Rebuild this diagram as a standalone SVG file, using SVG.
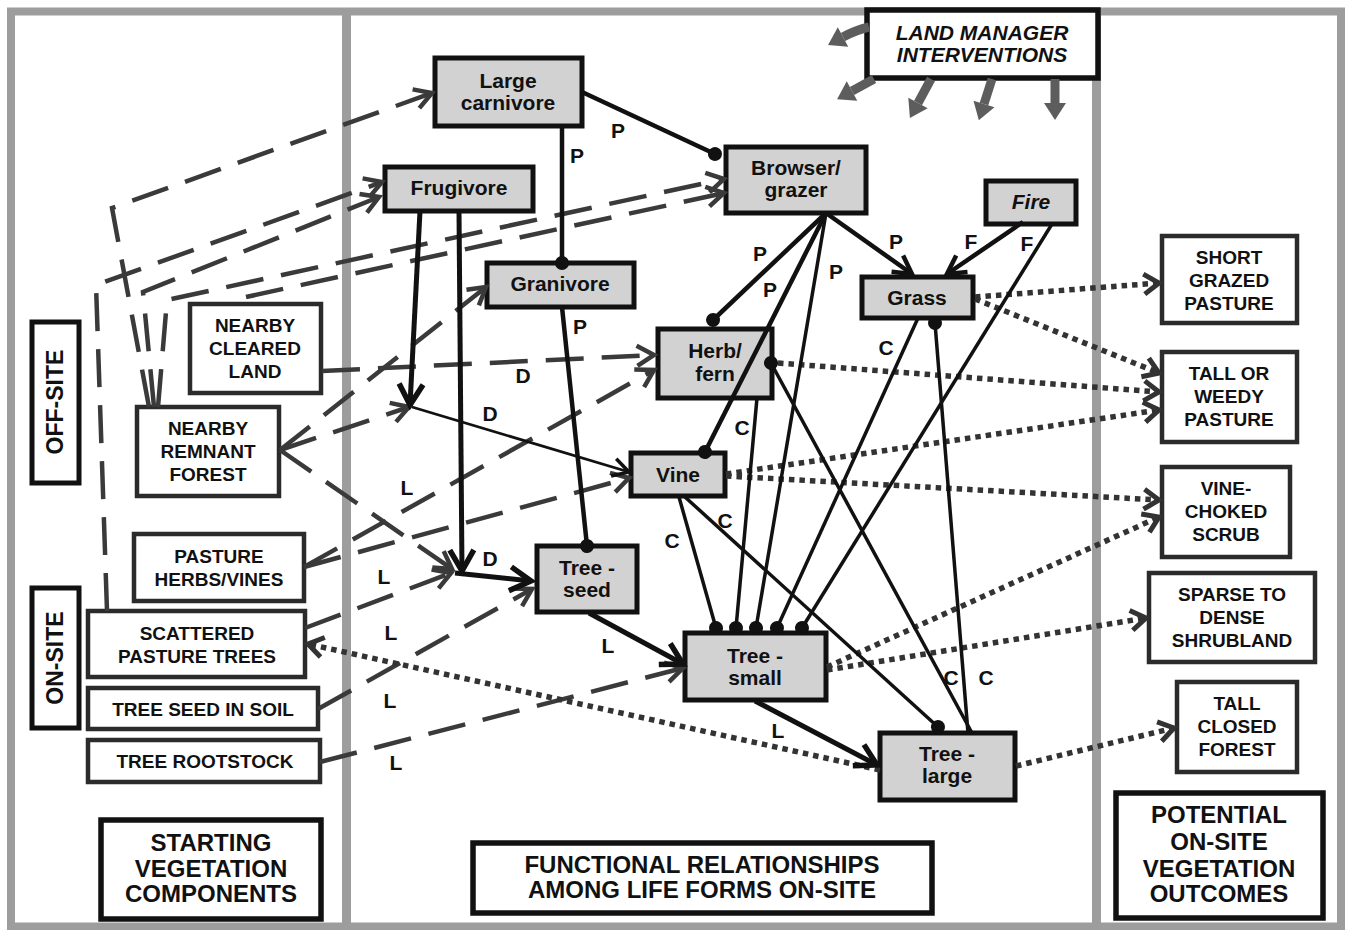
<svg xmlns="http://www.w3.org/2000/svg" width="1347" height="930" viewBox="0 0 1347 930">
<style>
.frame{fill:none;stroke:#9d9d9d;stroke-width:8}
.div{stroke:#9d9d9d;stroke-width:9}
.gnode rect{fill:#d2d2d2;stroke:#111;stroke-width:5}
.wnode rect{fill:#fff;stroke:#2b2b2b;stroke-width:4.5}
.hnode rect{fill:#fff;stroke:#111;stroke-width:5.5}
text{font-family:"Liberation Sans",Arial,sans-serif;font-weight:bold;text-anchor:middle;fill:#111}
.t19{font-size:19px}
.t21{font-size:21px}
.t23{font-size:23px}
.t24{font-size:24px}
.it{font-style:italic}
.lab{font-size:21px}
.solid{fill:none;stroke:#111;stroke-width:4.5}
.med{fill:none;stroke:#111;stroke-width:3.5}
.big{fill:none;stroke:#111;stroke-width:5}
.thin{fill:none;stroke:#111;stroke-width:2.8}
.dash{fill:none;stroke:#3a3a3a;stroke-width:4.5;stroke-dasharray:38 18}
.dot{fill:none;stroke:#333;stroke-width:5.5;stroke-dasharray:5.5 5}
.mgmt{fill:none;stroke:#5d5d5d;stroke-width:9}
</style>
<defs>
<marker id="aS" viewBox="-25 -15 30 30" markerWidth="30" markerHeight="30" refX="0" refY="0" markerUnits="userSpaceOnUse" orient="auto" overflow="visible"><path d="M-18,-10 L0,0 L-18,10" fill="none" stroke="#111" stroke-width="4.5"/></marker>
<marker id="aB" viewBox="-25 -15 30 30" markerWidth="30" markerHeight="30" refX="0" refY="0" markerUnits="userSpaceOnUse" orient="auto" overflow="visible"><path d="M-21,-12 L0,0 L-21,12" fill="none" stroke="#111" stroke-width="5.5"/></marker>
<marker id="aT" viewBox="-25 -15 30 30" markerWidth="30" markerHeight="30" refX="0" refY="0" markerUnits="userSpaceOnUse" orient="auto" overflow="visible"><path d="M-16,-9 L0,0 L-16,9" fill="none" stroke="#111" stroke-width="3.5"/></marker>
<marker id="aD" viewBox="-25 -15 30 30" markerWidth="30" markerHeight="30" refX="0" refY="0" markerUnits="userSpaceOnUse" orient="auto" overflow="visible"><path d="M-17,-10 L0,0 L-17,10" fill="none" stroke="#3a3a3a" stroke-width="4.5"/></marker>
<marker id="aO" viewBox="-25 -15 30 30" markerWidth="30" markerHeight="30" refX="0" refY="0" markerUnits="userSpaceOnUse" orient="auto" overflow="visible"><path d="M-15,-10 L0,0 L-15,10" fill="none" stroke="#333" stroke-width="5"/></marker>
<marker id="dotm" viewBox="-10 -10 20 20" markerWidth="20" markerHeight="20" refX="0" refY="0" markerUnits="userSpaceOnUse" orient="auto" overflow="visible"><circle cx="0" cy="0" r="7" fill="#111"/></marker>
<marker id="mh" viewBox="-2 -13 22 26" markerWidth="22" markerHeight="26" refX="0" refY="0" markerUnits="userSpaceOnUse" orient="auto" overflow="visible"><path d="M0,-11 L17,0 L0,11 Z" fill="#5d5d5d"/></marker>
</defs>

<g id="frame">
<rect class="frame" x="11" y="11.5" width="1330" height="915"/>
<line class="div" x1="346.5" y1="11" x2="346.5" y2="927"/>
<line class="div" x1="1096.5" y1="11" x2="1096.5" y2="927"/>
</g>

<!-- left panel -->
<g id="off-site" class="hnode"><rect x="32" y="322" width="47" height="161" style="stroke-width:5"/><text class="t23" transform="translate(55,402) rotate(-90)" y="8">OFF-SITE</text></g>
<g id="on-site" class="hnode"><rect x="32" y="588" width="47" height="140" style="stroke-width:5"/><text class="t23" transform="translate(55,658) rotate(-90)" y="8">ON-SITE</text></g>
<g id="nearby-cleared-land" class="wnode"><rect x="190" y="304" width="131" height="89"/><text class="t19" x="255" y="332">NEARBY</text><text class="t19" x="255" y="355">CLEARED</text><text class="t19" x="255" y="378">LAND</text></g>
<g id="nearby-remnant-forest" class="wnode"><rect x="137" y="407" width="142" height="89"/><text class="t19" x="208" y="435">NEARBY</text><text class="t19" x="208" y="458">REMNANT</text><text class="t19" x="208" y="481">FOREST</text></g>
<g id="pasture-herbs-vines" class="wnode"><rect x="134" y="534" width="170" height="67"/><text class="t19" x="219" y="563">PASTURE</text><text class="t19" x="219" y="586">HERBS/VINES</text></g>
<g id="scattered-pasture-trees" class="wnode"><rect x="88" y="611" width="217" height="66"/><text class="t19" x="197" y="640">SCATTERED</text><text class="t19" x="197" y="663">PASTURE TREES</text></g>
<g id="tree-seed-in-soil" class="wnode"><rect x="88" y="688" width="230" height="41"/><text class="t19" x="203" y="716">TREE SEED IN SOIL</text></g>
<g id="tree-rootstock" class="wnode"><rect x="88" y="740" width="232" height="42"/><text class="t19" x="205" y="768">TREE ROOTSTOCK</text></g>
<g id="starting-vegetation" class="hnode"><rect x="101" y="820" width="220" height="99"/><text class="t24" x="211" y="851">STARTING</text><text class="t24" x="211" y="877">VEGETATION</text><text class="t24" x="211" y="902">COMPONENTS</text></g>

<!-- middle panel -->
<g id="land-manager" class="hnode"><rect x="867" y="10" width="231" height="68"/><text class="t21 it" x="982" y="40">LAND MANAGER</text><text class="t21 it" x="982" y="62">INTERVENTIONS</text></g>
<g id="large-carnivore" class="gnode"><rect x="435" y="58" width="147" height="68"/><text class="t21" x="508" y="88">Large</text><text class="t21" x="508" y="110">carnivore</text></g>
<g id="frugivore" class="gnode"><rect x="385" y="167" width="148" height="44"/><text class="t21" x="459" y="195">Frugivore</text></g>
<g id="browser-grazer" class="gnode"><rect x="726" y="147" width="140" height="66"/><text class="t21" x="796" y="175">Browser/</text><text class="t21" x="796" y="197">grazer</text></g>
<g id="granivore" class="gnode"><rect x="487" y="263" width="147" height="44"/><text class="t21" x="560" y="291">Granivore</text></g>
<g id="fire" class="gnode"><rect x="986" y="181" width="90" height="43"/><text class="t21 it" x="1031" y="209">Fire</text></g>
<g id="grass" class="gnode"><rect x="862" y="277" width="111" height="41"/><text class="t21" x="917" y="305">Grass</text></g>
<g id="herb-fern" class="gnode"><rect x="658" y="329" width="114" height="69"/><text class="t21" x="715" y="358">Herb/</text><text class="t21" x="715" y="381">fern</text></g>
<g id="vine" class="gnode"><rect x="631" y="453" width="94" height="43"/><text class="t21" x="678" y="482">Vine</text></g>
<g id="tree-seed" class="gnode"><rect x="537" y="546" width="100" height="66"/><text class="t21" x="587" y="575">Tree -</text><text class="t21" x="587" y="597">seed</text></g>
<g id="tree-small" class="gnode"><rect x="685" y="633" width="141" height="67"/><text class="t21" x="755" y="663">Tree -</text><text class="t21" x="755" y="685">small</text></g>
<g id="tree-large" class="gnode"><rect x="880" y="733" width="135" height="67"/><text class="t21" x="947" y="761">Tree -</text><text class="t21" x="947" y="783">large</text></g>
<g id="functional-relationships" class="hnode"><rect x="473" y="843" width="459" height="70"/><text class="t24" x="702" y="873">FUNCTIONAL RELATIONSHIPS</text><text class="t24" x="702" y="898">AMONG LIFE FORMS ON-SITE</text></g>

<!-- right panel -->
<g id="short-grazed-pasture" class="wnode"><rect x="1162" y="236" width="135" height="87"/><text class="t19" x="1229" y="264">SHORT</text><text class="t19" x="1229" y="287">GRAZED</text><text class="t19" x="1229" y="310">PASTURE</text></g>
<g id="tall-weedy-pasture" class="wnode"><rect x="1162" y="352" width="135" height="90"/><text class="t19" x="1229" y="380">TALL OR</text><text class="t19" x="1229" y="403">WEEDY</text><text class="t19" x="1229" y="426">PASTURE</text></g>
<g id="vine-choked-scrub" class="wnode"><rect x="1162" y="467" width="128" height="90"/><text class="t19" x="1226" y="495">VINE-</text><text class="t19" x="1226" y="518">CHOKED</text><text class="t19" x="1226" y="541">SCRUB</text></g>
<g id="sparse-dense-shrubland" class="wnode"><rect x="1149" y="573" width="166" height="89"/><text class="t19" x="1232" y="601">SPARSE TO</text><text class="t19" x="1232" y="624">DENSE</text><text class="t19" x="1232" y="647">SHRUBLAND</text></g>
<g id="tall-closed-forest" class="wnode"><rect x="1177" y="682" width="120" height="90"/><text class="t19" x="1237" y="710">TALL</text><text class="t19" x="1237" y="733">CLOSED</text><text class="t19" x="1237" y="756">FOREST</text></g>
<g id="potential-outcomes" class="hnode"><rect x="1116" y="793" width="207" height="125"/><text class="t24" x="1219" y="823">POTENTIAL</text><text class="t24" x="1219" y="850">ON-SITE</text><text class="t24" x="1219" y="877">VEGETATION</text><text class="t24" x="1219" y="902">OUTCOMES</text></g>

<g id="connectors">
<!-- management arrows -->
<path class="mgmt" d="M869,27 Q856,30 843,37" marker-end="url(#mh)"/>
<path class="mgmt" d="M874,79 L852,91" marker-end="url(#mh)"/>
<path class="mgmt" d="M931,79 L918,103" marker-end="url(#mh)"/>
<path class="mgmt" d="M992,79 L984,104" marker-end="url(#mh)"/>
<path class="mgmt" d="M1055,79 L1055,103" marker-end="url(#mh)"/>

<!-- dashed -->
<path class="dash" d="M149,407 L112,208 L432,93" marker-end="url(#aD)"/>
<path class="dash" d="M107,611 L96,285 L382,182" marker-end="url(#aD)"/>
<path class="dash" d="M154,407 L143,292 L379,197" marker-end="url(#aD)"/>
<path class="dash" d="M158,407 L167,300 L724,179" marker-end="url(#aD)"/>
<path class="dash" d="M246,297 L724,193" marker-end="url(#aD)"/>
<path class="dash" d="M322,371 L654,355" marker-end="url(#aD)"/>
<path class="dash" d="M280,450 L409,407" marker-end="url(#aD)"/>
<path class="dash" d="M280,450 L486,287" marker-end="url(#aD)"/>
<path class="dash" d="M280,450 L452,569" marker-end="url(#aD)"/>
<path class="dash" d="M304,567 L654,370" marker-end="url(#aD)"/>
<path class="dash" d="M304,567 L629,478" marker-end="url(#aD)"/>
<path class="dash" d="M305,628 L451,573" marker-end="url(#aD)"/>
<path class="dash" d="M318,709 L532,589" marker-end="url(#aD)"/>
<path class="dash" d="M320,762 L683,668" marker-end="url(#aD)"/>

<!-- dotted -->
<path class="dot" d="M975,297 L1159,283" marker-end="url(#aO)"/>
<path class="dot" d="M975,299 L1159,373" marker-end="url(#aO)"/>
<path class="dot" d="M778,363 L1159,392" marker-end="url(#aO)"/>
<path class="dot" d="M726,474 L1159,410" marker-end="url(#aO)"/>
<path class="dot" d="M726,476 L1159,500" marker-end="url(#aO)"/>
<path class="dot" d="M827,667 L1159,517" marker-end="url(#aO)"/>
<path class="dot" d="M827,670 L1146,618" marker-end="url(#aO)"/>
<path class="dot" d="M1016,766 L1174,728" marker-end="url(#aO)"/>
<path class="dot" d="M880,770 L308,644" marker-end="url(#aO)"/>

<!-- solid -->
<path class="solid" d="M582,92 L715,154" marker-end="url(#dotm)"/>
<path class="solid" d="M562,126 L562,263" marker-end="url(#dotm)"/>
<path class="solid" d="M826,213 L912,274" marker-end="url(#aS)"/>
<path class="solid" d="M1023,222 L947,274" marker-end="url(#aS)"/>
<path class="solid" d="M826,213 L713,320" marker-end="url(#dotm)"/>
<path class="solid" d="M826,213 L705,452" marker-end="url(#dotm)"/>
<path class="med" d="M826,213 L756,628" marker-end="url(#dotm)"/>
<path class="med" d="M918,318 L777,628" marker-end="url(#dotm)"/>
<path class="med" d="M1052,224 L802,628" marker-end="url(#dotm)"/>
<path class="med" d="M757,398 L736,628" marker-end="url(#dotm)"/>
<path class="med" d="M679,497 L716,628" marker-end="url(#dotm)"/>
<path class="med" d="M685,497 L938,727" marker-end="url(#dotm)"/>
<path class="med" d="M972,733 L771,363" marker-end="url(#dotm)"/>
<path class="med" d="M968,733 L935,323" marker-end="url(#dotm)"/>
<path class="solid" d="M562,307 L587,546" marker-end="url(#dotm)"/>
<path class="big" d="M420,211 L410,405" marker-end="url(#aB)"/>
<path class="big" d="M459,211 L462,571" marker-end="url(#aB)"/>
<path class="thin" d="M412,407 L629,472" marker-end="url(#aT)"/>
<path class="big" d="M455,573 L531,581" marker-end="url(#aB)"/>
<path class="big" d="M589,613 L683,664" marker-end="url(#aB)"/>
<path class="big" d="M755,701 L877,765" marker-end="url(#aB)"/>
</g>

<g id="labels">
<text class="lab" x="618" y="138">P</text>
<text class="lab" x="577" y="163">P</text>
<text class="lab" x="896" y="249">P</text>
<text class="lab" x="760" y="261">P</text>
<text class="lab" x="770" y="297">P</text>
<text class="lab" x="836" y="279">P</text>
<text class="lab" x="580" y="334">P</text>
<text class="lab" x="971" y="249">F</text>
<text class="lab" x="1027" y="251">F</text>
<text class="lab" x="886" y="355">C</text>
<text class="lab" x="742" y="435">C</text>
<text class="lab" x="725" y="528">C</text>
<text class="lab" x="672" y="548">C</text>
<text class="lab" x="951" y="685">C</text>
<text class="lab" x="986" y="685">C</text>
<text class="lab" x="523" y="383">D</text>
<text class="lab" x="490" y="421">D</text>
<text class="lab" x="490" y="566">D</text>
<text class="lab" x="407" y="495">L</text>
<text class="lab" x="384" y="584">L</text>
<text class="lab" x="391" y="640">L</text>
<text class="lab" x="390" y="708">L</text>
<text class="lab" x="396" y="770">L</text>
<text class="lab" x="608" y="653">L</text>
<text class="lab" x="778" y="738">L</text>
</g>
</svg>
